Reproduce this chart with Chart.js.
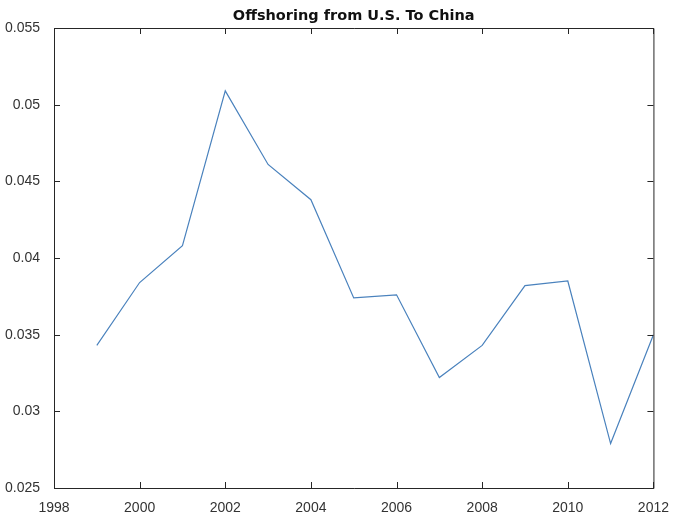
<!DOCTYPE html>
<html>
<head>
<meta charset="utf-8">
<script src="https://cdn.jsdelivr.net/npm/chart.js@4"></script>
<style>
  html, body { margin: 0; padding: 0; background: #fff; }
  #wrap { width: 673px; height: 513px; }
</style>
</head>
<body>
<div id="wrap"><canvas id="grafico"></canvas></div>
<script>
const years = [1999, 2000, 2001, 2002, 2003, 2004, 2005, 2006, 2007, 2008, 2009, 2010, 2011, 2012];
const offshoring = [0.0343, 0.0384, 0.0408, 0.0509, 0.0461, 0.0438, 0.0374, 0.0376, 0.0322, 0.0343, 0.0382, 0.0385, 0.0279, 0.0350];
const xTicks = [1998, 2000, 2002, 2004, 2006, 2008, 2010, 2012];
const yTicks = [0.025, 0.03, 0.035, 0.04, 0.045, 0.05, 0.055];
const titulo = 'Offshoring from U.S. To China';

const corEixo = '#262626';

// box around the plot with inward ticks on all four sides, plus the title
const caixa = {
    id: 'caixa',
    afterDraw(chart) {
        const ctx = chart.ctx;
        const a = chart.chartArea;
        const x = chart.scales.x;
        const y = chart.scales.y;
        const t = 6;
        ctx.save();
        ctx.strokeStyle = corEixo;
        ctx.lineWidth = 1;
        ctx.beginPath();
        ctx.rect(a.left + 0.5, a.top + 0.5, a.right - a.left, a.bottom - a.top);
        xTicks.forEach(v => {
            const px = Math.round(x.getPixelForValue(v)) + 0.5;
            ctx.moveTo(px, a.bottom); ctx.lineTo(px, a.bottom - t);
            ctx.moveTo(px, a.top); ctx.lineTo(px, a.top + t);
        });
        yTicks.forEach(v => {
            const py = Math.round(y.getPixelForValue(v)) + 0.5;
            ctx.moveTo(a.left, py); ctx.lineTo(a.left + t, py);
            ctx.moveTo(a.right, py); ctx.lineTo(a.right - t, py);
        });
        ctx.stroke();

        ctx.fillStyle = '#111';
        ctx.font = 'bold 14.5px "DejaVu Sans", sans-serif';
        ctx.textAlign = 'center';
        ctx.textBaseline = 'alphabetic';
        ctx.fillText(titulo, (a.left + a.right) / 2, 20);
        ctx.restore();
    }
};

new Chart(document.getElementById('grafico'), {
    type: 'line',
    data: {
        datasets: [{
            data: years.map((ano, i) => ({ x: ano, y: offshoring[i] })),
            borderColor: '#4a82bd',
            borderWidth: 1.2,
            pointRadius: 0,
            tension: 0,
            fill: false
        }]
    },
    options: {
        responsive: true,
        maintainAspectRatio: false,
        animation: false,
        layout: { padding: { top: 28, right: 19, left: 0, bottom: 0 } },
        plugins: { legend: { display: false }, tooltip: { enabled: false } },
        scales: {
            x: {
                type: 'linear',
                min: 1998,
                max: 2012,
                afterBuildTicks: s => { s.ticks = xTicks.map(v => ({ value: v })); },
                afterFit: s => { s.height = 25; },
                grid: { display: false },
                border: { display: false },
                ticks: {
                    color: '#333',
                    font: { family: '"Liberation Sans", Arial, sans-serif', size: 14 },
                    padding: 4,
                    maxRotation: 0,
                    callback: v => String(v)
                }
            },
            y: {
                min: 0.025,
                max: 0.055,
                afterBuildTicks: s => { s.ticks = yTicks.map(v => ({ value: v })); },
                afterFit: s => { s.width = 54; },
                grid: { display: false },
                border: { display: false },
                ticks: {
                    color: '#333',
                    font: { family: '"Liberation Sans", Arial, sans-serif', size: 14 },
                    padding: 6,
                    callback: v => String(+v.toFixed(3))
                }
            }
        }
    },
    plugins: [caixa]
});
</script>
</body>
</html>
